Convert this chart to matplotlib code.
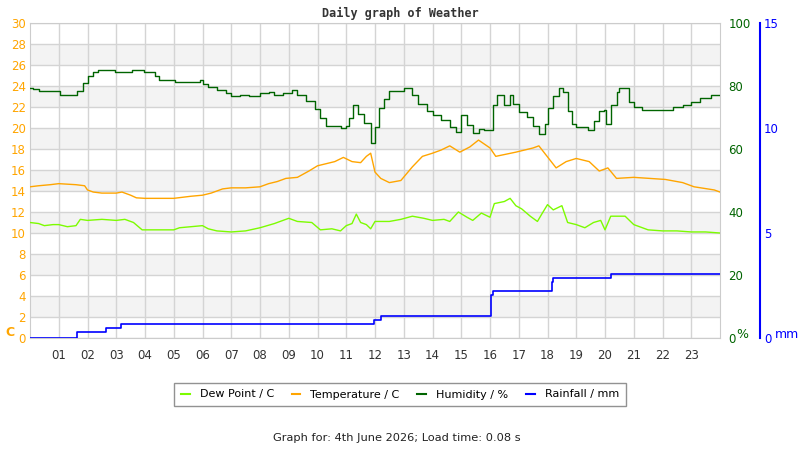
import matplotlib
matplotlib.use("Agg")
import matplotlib.pyplot as plt
from matplotlib.lines import Line2D

# ---- data (hours of the day) ----
temp_t = [0.0, 0.3, 0.7, 1.0, 1.6, 1.9, 2.0, 2.2, 2.5, 3.0, 3.2, 3.5, 3.7, 4.0, 5.0, 5.3, 5.6, 6.0,
          6.3, 6.7, 7.0, 7.5, 8.0, 8.3, 8.6, 8.9, 9.3, 9.7, 10.0, 10.3, 10.6, 10.9, 11.2, 11.5, 11.7,
          11.85, 12.0, 12.2, 12.5, 12.9, 13.3, 13.65, 14.0, 14.3, 14.6, 14.95, 15.3, 15.6, 16.0, 16.2,
          16.55, 16.9, 17.5, 17.7, 17.9, 18.3, 18.65, 19.0, 19.45, 19.8, 20.1, 20.4, 21.0, 22.1, 22.7,
          23.1, 23.8, 24.0]
temp_c = [14.4, 14.5, 14.6, 14.7, 14.6, 14.5, 14.1, 13.9, 13.8, 13.8, 13.9, 13.6, 13.35, 13.3, 13.3, 13.4,
          13.5, 13.6, 13.8, 14.2, 14.3, 14.3, 14.4, 14.7, 14.9, 15.2, 15.3, 15.9, 16.4, 16.6, 16.8, 17.2,
          16.8, 16.7, 17.3, 17.6, 15.8, 15.2, 14.8, 15.0, 16.3, 17.3, 17.6, 17.9, 18.3, 17.7, 18.2, 18.85,
          18.1, 17.3, 17.5, 17.7, 18.1, 18.3, 17.6, 16.2, 16.8, 17.1, 16.8, 15.9, 16.2, 15.2, 15.3, 15.1,
          14.8, 14.4, 14.1, 13.9]

dew_t = [0.0, 0.3, 0.5, 0.8, 1.0, 1.3, 1.6, 1.75, 2.0, 2.5, 3.0, 3.3, 3.6, 3.9, 5.0, 5.2, 5.6, 6.0, 6.2,
         6.5, 7.0, 7.5, 8.0, 8.5, 8.8, 9.0, 9.3, 9.8, 10.1, 10.5, 10.8, 11.0, 11.2, 11.35, 11.5, 11.7,
         11.85, 12.0, 12.5, 12.9, 13.3, 13.7, 14.0, 14.4, 14.6, 14.9, 15.2, 15.4, 15.7, 16.0, 16.15,
         16.5, 16.7, 16.9, 17.1, 17.4, 17.65, 17.8, 18.0, 18.2, 18.5, 18.7, 19.0, 19.3, 19.6, 19.85,
         20.0, 20.2, 20.7, 21.0, 21.5, 22.0, 22.5, 23.0, 23.5, 24.0]
dew_c = [11.0, 10.9, 10.7, 10.8, 10.8, 10.6, 10.7, 11.3, 11.2, 11.3, 11.2, 11.3, 11.0, 10.3, 10.3, 10.5,
         10.6, 10.7, 10.4, 10.2, 10.1, 10.2, 10.5, 10.9, 11.2, 11.4, 11.1, 11.0, 10.3, 10.4, 10.2, 10.7,
         10.9, 11.8, 11.0, 10.8, 10.4, 11.1, 11.1, 11.3, 11.6, 11.4, 11.2, 11.3, 11.1, 12.0, 11.5, 11.2,
         11.9, 11.5, 12.8, 13.0, 13.3, 12.6, 12.3, 11.6, 11.1, 11.8, 12.7, 12.2, 12.6, 11.0, 10.8, 10.5,
         11.0, 11.2, 10.3, 11.6, 11.6, 10.8, 10.3, 10.2, 10.2, 10.1, 10.1, 10.0]

hum_t = [0.0, 0.1, 0.3, 1.0, 1.05, 1.6, 1.65, 1.75, 1.85, 2.0, 2.2, 2.35, 2.9, 2.95, 3.5, 3.55, 3.9,
         3.95, 4.3, 4.35, 4.5, 5.0, 5.05, 5.9, 6.0, 6.2, 6.5, 6.8, 7.0, 7.3, 7.6, 8.0, 8.3, 8.5, 8.8,
         9.1, 9.3, 9.6, 9.9, 10.1, 10.3, 10.8, 11.0, 11.1, 11.25, 11.4, 11.6, 11.85, 12.0, 12.15, 12.3,
         12.5, 13.0, 13.3, 13.5, 13.8, 14.0, 14.3, 14.6, 14.8, 15.0, 15.2, 15.4, 15.6, 15.8, 16.0, 16.1,
         16.25, 16.5, 16.7, 16.8, 17.0, 17.3, 17.5, 17.7, 17.9, 18.0, 18.2, 18.4, 18.55, 18.7, 18.85,
         19.0, 19.4, 19.6, 19.8, 19.95, 20.05, 20.2, 20.4, 20.5, 20.75, 20.85, 21.0, 21.3, 22.3, 22.35,
         22.7, 23.0, 23.3, 23.7, 24.0]
hum_pc = [79.5, 79.0, 78.3, 78.3, 77.3, 77.3, 78.3, 78.3, 81.0, 83.3, 84.3, 85.0, 85.0, 84.3, 84.3,
          85.0, 85.0, 84.3, 84.3, 83.3, 82.0, 82.0, 81.3, 82.0, 80.7, 79.7, 78.7, 77.7, 76.7, 77.0,
          76.7, 77.7, 78.0, 77.3, 77.7, 78.7, 77.0, 75.3, 72.7, 70.0, 67.3, 66.7, 67.3, 70.0, 74.0,
          71.0, 68.3, 62.0, 67.0, 73.0, 76.0, 78.3, 79.3, 77.3, 74.3, 72.0, 70.7, 69.3, 67.0, 65.3,
          70.7, 67.7, 65.0, 66.3, 66.0, 66.0, 74.0, 77.0, 74.0, 77.0, 74.3, 71.7, 70.3, 67.3, 64.7,
          68.0, 73.0, 76.7, 79.3, 78.0, 72.0, 68.0, 67.0, 66.0, 69.0, 72.0, 72.3, 68.0, 74.0, 78.0,
          79.3, 79.3, 75.0, 73.3, 72.3, 72.3, 73.3, 74.0, 75.0, 76.3, 77.0, 77.3]

rain_t = [0.0, 1.63, 2.65, 3.15, 11.95, 12.2, 16.05, 16.1, 18.15, 18.2, 20.2, 24.0]
rain_mm = [0.0, 0.27, 0.48, 0.66, 0.86, 1.05, 2.05, 2.24, 2.65, 2.85, 3.05, 3.05]

hours = list(range(1, 24))
temp_ticks = list(range(0, 31, 2))
hum_ticks = [0, 20, 40, 60, 80, 100]
rain_ticks = [0, 5, 10, 15]

DEW = "#7cfc00"
TEMP = "#ffa500"
HUM = "#006400"
RAIN = "#0000ff"

fig = plt.figure(figsize=(8, 4.5), dpi=100)
ax = fig.add_axes([30 / 800, 1 - 338 / 450, 690 / 800, 315 / 450])
ax.set_xlim(0, 24)
ax.set_ylim(0, 30)

# alternating bands
for lo in range(2, 30, 4):
    ax.axhspan(lo, lo + 2, color="#f3f3f3", zorder=0, lw=0)
ax.set_yticks(temp_ticks)
ax.set_xticks(hours)
ax.set_xticklabels(["%02d" % h for h in hours])
ax.grid(True, color="#d4d4d4", lw=1, zorder=1)
ax.set_axisbelow(True)
for s in ax.spines.values():
    s.set_color("#cccccc")
ax.tick_params(axis="y", length=0, labelcolor=TEMP, labelsize=8.5, pad=3)
ax.tick_params(axis="x", length=0, labelcolor="#333333", labelsize=8.5, pad=8)

ax.plot(dew_t, dew_c, color=DEW, lw=1, zorder=3)
ax.plot(temp_t, temp_c, color=TEMP, lw=1, zorder=3)

ax_h = ax.twinx()
ax_h.set_ylim(0, 100)
ax_h.set_yticks(hum_ticks)
for s in ax_h.spines.values():
    s.set_visible(False)
ax_h.tick_params(axis="y", length=0, labelcolor=HUM, labelsize=8.5, pad=6)
ax_h.plot(hum_t, hum_pc, color=HUM, lw=1, drawstyle="steps-post")

ax_r = ax.twinx()
ax_r.set_ylim(0, 15)
ax_r.set_yticks(rain_ticks)
for s in ["top", "bottom", "left"]:
    ax_r.spines[s].set_visible(False)
ax_r.spines["right"].set_position(("axes", 730 / 690))
ax_r.spines["right"].set_color(RAIN)
ax_r.spines["right"].set_linewidth(1.5)
ax_r.tick_params(axis="y", length=0, labelcolor=RAIN, labelsize=8.5, pad=3)
ax_r.plot(rain_t, rain_mm, color=RAIN, lw=1.2, drawstyle="steps-post")
ax_r.set_xlim(0, 24)

# unit labels
fig.text(5 / 800, 1 - 333 / 450, "C", color=TEMP, fontsize=9, fontweight="bold", va="center")
fig.text(736 / 800, 1 - 334 / 450, "%", color=HUM, fontsize=9, va="center")
fig.text(775 / 800, 1 - 334 / 450, "mm", color=RAIN, fontsize=9, va="center")

fig.text(400 / 800, 1 - 13 / 450, "Daily graph of Weather", family="DejaVu Sans Mono",
         fontweight="bold", fontsize=8.5, color="#333333", ha="center", va="center")

handles = [Line2D([], [], color=DEW, lw=1.5), Line2D([], [], color=TEMP, lw=1.5),
           Line2D([], [], color=HUM, lw=1.5), Line2D([], [], color=RAIN, lw=1.5)]
names = ["Dew Point / C", "Temperature / C", "Humidity / %", "Rainfall / mm"]
leg = fig.legend(handles, names, loc="center", bbox_to_anchor=(400 / 800, 1 - 394.5 / 450), ncol=4,
                 fontsize=8, frameon=True, fancybox=False, edgecolor="#777777", handlelength=0.8,
                 columnspacing=1.6, borderpad=0.6, handletextpad=0.9)
leg.get_frame().set_linewidth(1)

fig.text(397 / 800, 1 - 438 / 450, "Graph for: 4th June 2026; Load time: 0.08 s", fontsize=8.2,
         color="#222222", ha="center", va="center")

fig.savefig("out.png", dpi=100)
